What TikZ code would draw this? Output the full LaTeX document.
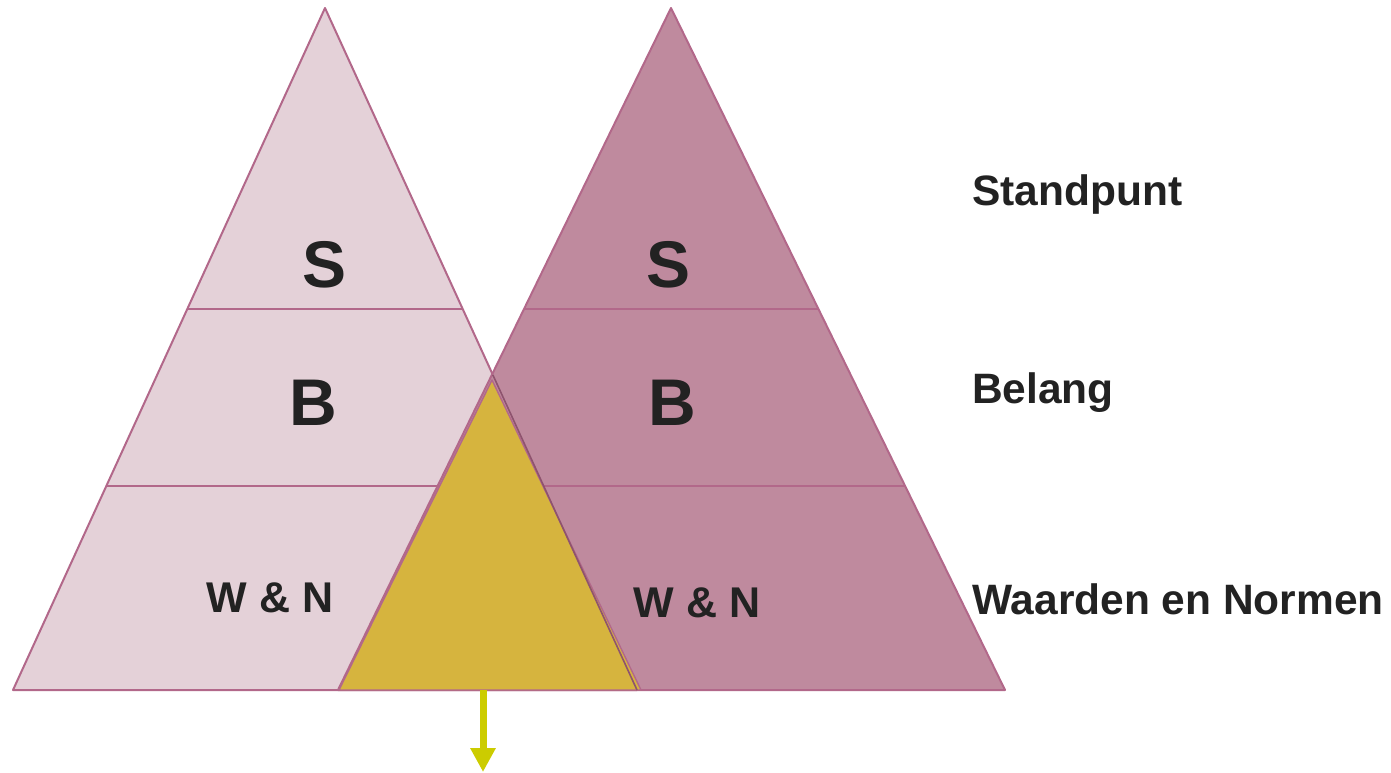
\documentclass[tikz,border=0pt]{standalone}
\usepackage{fontspec}
\setmainfont{Liberation Sans}
\usepackage{xcolor}
\usepackage{tikz}
\usetikzlibrary{calc, positioning, arrows.meta}
\definecolor{paleRose}{HTML}{E4D1D8}
\definecolor{mauve}{HTML}{BF8A9E}
\definecolor{rim}{HTML}{B2688A}
\definecolor{ochre}{HTML}{D6B43E}
\definecolor{lime}{HTML}{CCCC00}
\definecolor{ink}{HTML}{222222}
\tikzset{
    lefttri/.style={fill=paleRose, draw=rim, line width=2pt, line join=round},
    righttri/.style={fill=mauve, draw=rim, line width=2pt, line join=round},
    overlap/.style={fill=ochre, draw=rim, line width=1.4pt, line join=round},
    divider/.style={draw=rim, line width=2pt},
    bigletter/.style={font=\bfseries\fontsize{66}{70}\selectfont, text=ink, inner sep=0pt},
    smallletter/.style={font=\bfseries\fontsize{43}{48}\selectfont, text=ink, inner sep=0pt},
    level/.style={font=\bfseries\fontsize{42.5}{48}\selectfont, text=ink, inner sep=0pt, anchor=base west},
    arrow/.style={-{Triangle[width=24pt,length=24pt]}, line width=7pt, draw=lime}
}
\begin{document}
\begin{tikzpicture}[x=1pt, y=-1pt]
    \useasboundingbox (0,0) rectangle (1391,772);

    % Corners
    \coordinate (LT) at (325,8);
    \coordinate (LL) at (13,690);
    \coordinate (LR) at (637,690);
    \coordinate (RT) at (671,8);
    \coordinate (RL) at (338,690);
    \coordinate (RR) at (1005,690);
    \coordinate (YT) at (492,380);
    \coordinate (YL) at (339,690);
    \coordinate (YR) at (641,690);

    % Left triangle
    \draw[lefttri] (LT) -- (LL) -- (LR) -- cycle;
    \draw[divider] ($(LT)!0.4413!(LL)$) -- ($(LT)!0.4413!(LR)$);
    \draw[divider] ($(LT)!0.701!(LL)$) -- ($(LT)!0.701!(LR)$);

    % Right triangle
    \draw[righttri] (RT) -- (RL) -- (RR) -- cycle;
    \draw[divider] ($(RT)!0.4413!(RL)$) -- ($(RT)!0.4413!(RR)$);
    \draw[divider] ($(RT)!0.701!(RL)$) -- ($(RT)!0.701!(RR)$);

    % Overlap
    \draw[overlap] (YT) -- (YL) -- (YR) -- cycle;
    \draw[rim!80!black, line width=1.6pt] ($(LT)!0.538!(LR)$) -- (LR);
    \coordinate (out) at (483,772);
    \draw[arrow] (483,690) -- (out);

    % Letters
    \node[bigletter] (S1) at (325,265) {S};
    \node[bigletter] (B1) at (313,403) {B};
    \node[smallletter] (WN1) at (270,598) {W \& N};
    \node[bigletter] (S2) at (669,265) {S};
    \node[bigletter] (B2) at (672,403) {B};
    \node[smallletter] (WN2) at (697,603) {W \& N};

    % Levels
    \node[level] (stand) at (972,205) {Standpunt};
    \node[level] (belang) at (972,403) {Belang};
    \node[level] (waarden) at (972,614) {Waarden en Normen};
\end{tikzpicture}
\end{document}
